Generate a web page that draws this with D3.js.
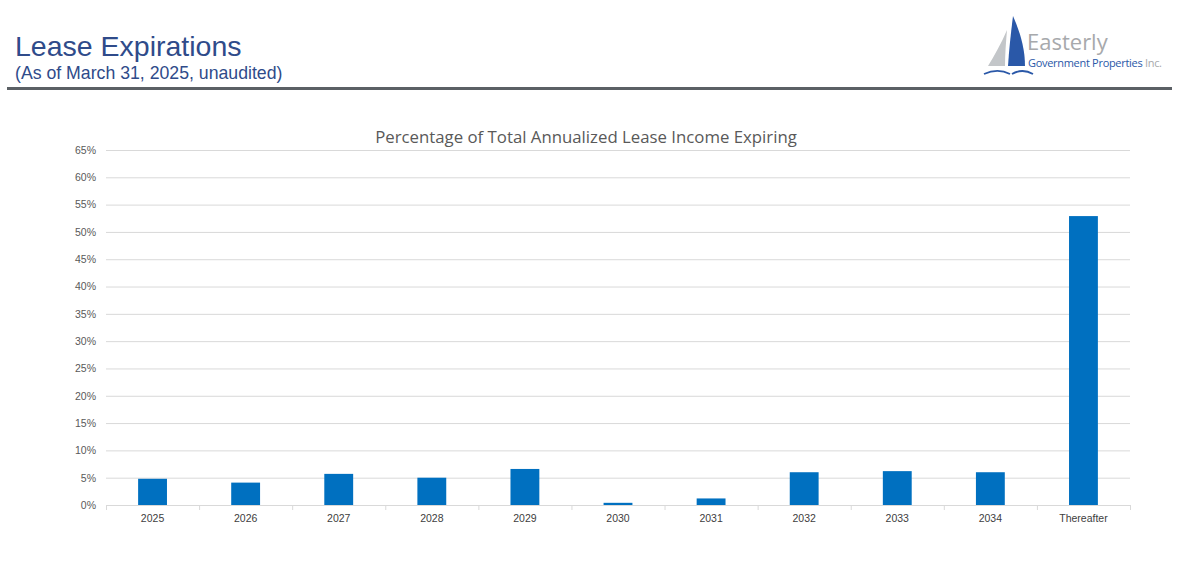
<!DOCTYPE html>
<html><head><meta charset="utf-8">
<script src="https://cdn.jsdelivr.net/npm/d3@7"></script>
<style>body{margin:0;background:#fff;}svg{display:block;}</style>
</head><body>
<svg id="c" width="1197" height="580"></svg>
<script>
const categories = ["2025","2026","2027","2028","2029","2030","2031","2032","2033","2034","Thereafter"];
const values = [4.8, 4.1, 5.7, 5.0, 6.6, 0.4, 1.2, 6.0, 6.2, 6.0, 52.9];
const yTicks = [0,5,10,15,20,25,30,35,40,45,50,55,60,65];

const svg = d3.select("#c");
const m = {left:106, right:1130, top:150, bottom:505};

// Header
svg.append("text").attr("x",15).attr("y",56).attr("font-family","Liberation Sans, Arial").attr("font-size",28.5).attr("fill","#2F4B8A").text("Lease Expirations");
svg.append("text").attr("x",15).attr("y",79).attr("font-family","Liberation Sans, Arial").attr("font-size",17.7).attr("fill","#2F4B8A").text("(As of March 31, 2025, unaudited)");
svg.append("rect").attr("x",7).attr("y",87).attr("width",1165).attr("height",3).attr("fill","#5B6065");

// Logo
const lg = svg.append("g");
lg.append("path").attr("d","M1013,16 C1020,32 1025,48 1025,66 L1008,66 C1009,50 1011,32 1013,16 Z").attr("fill","#2A58A8");
lg.append("path").attr("d","M1007,30 C1001,44 994,56 988,66 L1005,66 C1005,54 1006,42 1007,30 Z").attr("fill","#C3C6C9");
lg.append("path").attr("d","M984,74 C993,70 1002,70 1010,74").attr("fill","none").attr("stroke","#2A58A8").attr("stroke-width",1.8);
lg.append("path").attr("d","M1012,74 C1019,70 1026,70 1033,74").attr("fill","none").attr("stroke","#2A58A8").attr("stroke-width",1.8);
lg.append("text").attr("x",1027).attr("y",50).attr("font-family","Open Sans, Liberation Sans").attr("font-size",22).attr("fill","#A7A9AC").text("Easterly");
const t2 = lg.append("text").attr("x",1028).attr("y",67).attr("font-family","Open Sans, Liberation Sans").attr("font-size",11).attr("letter-spacing",-0.3);
t2.append("tspan").attr("fill","#2A58A8").text("Government Properties ");
t2.append("tspan").attr("fill","#A7A9AC").text("Inc.");

// Chart title
svg.append("text").attr("x",586).attr("y",143).attr("text-anchor","middle").attr("font-family","Open Sans, Liberation Sans").attr("font-size",16.8).attr("fill","#595959").text("Percentage of Total Annualized Lease Income Expiring");

const x = d3.scaleBand().domain(categories).range([m.left,m.right]).paddingInner(0.69).paddingOuter(0.345);
const xb = d3.scaleBand().domain(categories).range([m.left,m.right]);
const y = d3.scaleLinear().domain([0,65]).range([m.bottom,m.top]);

// grid
svg.append("g").selectAll("line").data(yTicks.filter(d=>d>0)).join("line")
  .attr("x1",m.left).attr("x2",m.right).attr("y1",d=>y(d)+0.5).attr("y2",d=>y(d)+0.5)
  .attr("stroke","#D9D9D9").attr("stroke-width",1);

// y axis labels
const ya = svg.append("g").attr("transform",`translate(${m.left-10},0)`)
  .call(d3.axisLeft(y).tickValues(yTicks).tickFormat(d=>d+"%").tickSize(0).tickPadding(0));
ya.select(".domain").remove();
ya.selectAll("text").attr("font-family","Liberation Sans, Arial").attr("font-size",10.5).attr("fill","#595959");

// bars
svg.append("g").selectAll("rect").data(values).join("rect")
  .attr("x",(d,i)=>x(categories[i])).attr("width",x.bandwidth())
  .attr("y",d=>y(d)).attr("height",d=>y(0)-y(d)).attr("fill","#0070C0");

// x axis
svg.append("line").attr("x1",m.left).attr("x2",m.right).attr("y1",m.bottom+0.5).attr("y2",m.bottom+0.5).attr("stroke","#D9D9D9");
svg.append("g").selectAll("line").data(categories.concat(["__end"])).join("line")
  .attr("x1",(d,i)=>m.left+i*xb.step()+0.5).attr("x2",(d,i)=>m.left+i*xb.step()+0.5)
  .attr("y1",m.bottom).attr("y2",m.bottom+5).attr("stroke","#D9D9D9");
const xa = svg.append("g").attr("transform",`translate(0,${m.bottom})`)
  .call(d3.axisBottom(xb).tickSize(0).tickPadding(10));
xa.select(".domain").remove();
xa.selectAll("text").attr("font-family","Liberation Sans, Arial").attr("font-size",10.5).attr("fill","#404040");
</script>
</body></html>
